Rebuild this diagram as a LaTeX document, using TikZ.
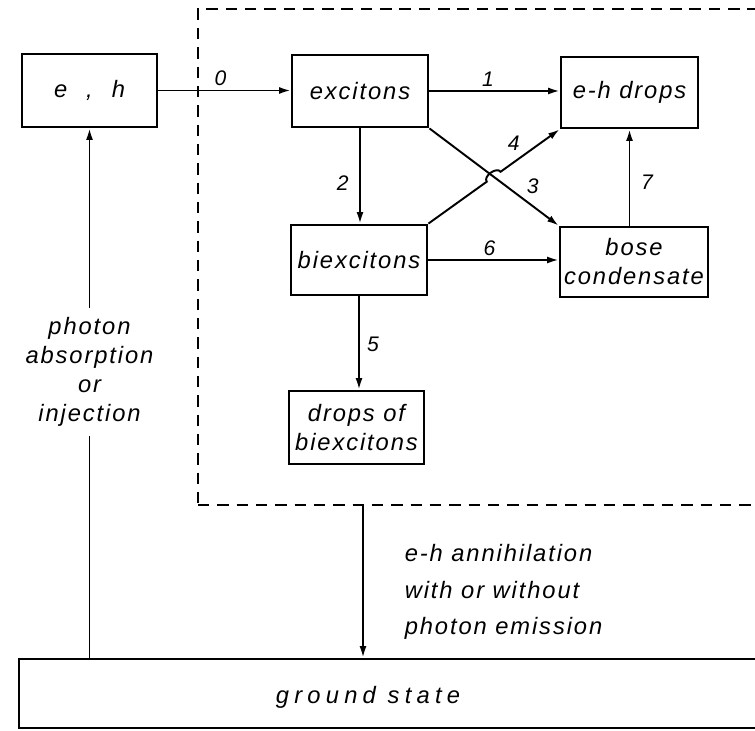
\documentclass[tikz,border=0pt]{standalone}
\usepackage{fontspec}
\setmainfont{Liberation Sans}[LetterSpace=8]
\usetikzlibrary{arrows.meta,calc,intersections}

\begin{document}
\begin{tikzpicture}[
        font=\fontsize{13.5}{16.5}\selectfont\itshape,
        box/.style={
            rectangle,
            draw,
            line width=1.6pt,
            align=center,
            minimum width=2.72cm,
            minimum height=1.44cm,
            inner sep=2pt
        },
        region/.style={
            rectangle,
            draw,
            dash pattern=on 6.5pt off 4.5pt,
            line width=1pt,
            minimum width=12.44cm,
            minimum height=9.92cm
        },
        arrow/.style={-{Latex[length=2.3mm,width=1.4mm]}, line width=1.1pt},
        num/.style={font=\fontsize{12}{14}\selectfont\itshape, inner sep=2pt}
    ]

        \useasboundingbox (0,0) rectangle (15.1,-14.62);
        \clip (0,0) rectangle (15.1,-14.62);

        \node[region] (zone) at (10.18,-5.14) {};
        \node[box, minimum width=2.7cm, minimum height=1.46cm] (eh) at (1.79,-1.81) {e\hspace{0.8em},\hspace{0.8em}h};
        \node[box] (excitons) at (7.2,-1.82) {excitons};
        \node[box, minimum width=2.74cm, minimum height=1.42cm] (ehdrops) at (12.59,-1.85) {e-h drops};
        \node[box, minimum height=1.4cm] (biexcitons) at (7.18,-5.2) {biexcitons};
        \node[box, minimum width=2.96cm, minimum height=1.4cm] (bose) at (12.68,-5.24) {bose\\condensate};
        \node[box, minimum width=2.7cm, minimum height=1.46cm] (drops) at (7.13,-8.55) {drops of\\biexcitons};
        \node[box, minimum width=16.02cm, minimum height=1.38cm] (ground) at (8.39,-13.87) {};
        \node (groundtext) at (7.36,-13.94) {\addfontfeatures{LetterSpace=22}ground state};
        \coordinate (exit) at (7.26,-10.1);

        \draw[arrow] (eh.east) -- (eh.east -| excitons.west) node[num, pos=0.47, above] (n0) {0};
        \draw[arrow] (excitons.east) -- (excitons.east -| ehdrops.west) node[num, pos=0.45, above] (n1) {1};
        \draw[arrow] (excitons.south) -- (excitons.south |- biexcitons.north) node[num, pos=0.57, left=4pt] (n2) {2};
        \draw[arrow] (biexcitons.south) -- (biexcitons.south |- drops.north) node[num, pos=0.51, right=2pt] (n5) {5};
        \draw[arrow] (biexcitons.east) -- (biexcitons.east -| bose.west) node[num, pos=0.47, above] (n6) {6};
        \draw[arrow] (ehdrops.south |- bose.north) -- (ehdrops.south) node[num, pos=0.45, right=4pt] (n7) {7};

        % crossing of 3 and 4, with a hop on 4
        \path[name path=diag3] (excitons.south east) -- (bose.north west);
        \path[name path=diag4] (biexcitons.north east) -- (ehdrops.south west);
        \path[name intersections={of=diag3 and diag4, by=cross}];
        \draw[arrow] (excitons.south east) -- (bose.north west) node[num, pos=0.72, above right] (n3) {3};
        \draw[arrow] (biexcitons.north east) -- ($(cross)!0.17cm!(biexcitons.north east)$)
            to[bend left=90] ($(cross)!0.17cm!(ehdrops.south west)$)
            -- (ehdrops.south west) node[num, pos=0.4, above left] (n4) {4};

        \draw[arrow] (eh.south |- ground.north) -- (eh.south)
            node[pos=0.54, fill=white, inner sep=5.5pt, align=center] (photon) {photon\\absorption\\or\\injection};
        \draw[arrow] (exit) -- (exit |- ground.north)
            node[pos=0.57, right=0.7cm, align=left, font=\fontsize{13.5}{20.7}\selectfont\itshape] (annihil)
            {e-h annihilation\\with or without\\photon emission};

    \end{tikzpicture}
\end{document}
